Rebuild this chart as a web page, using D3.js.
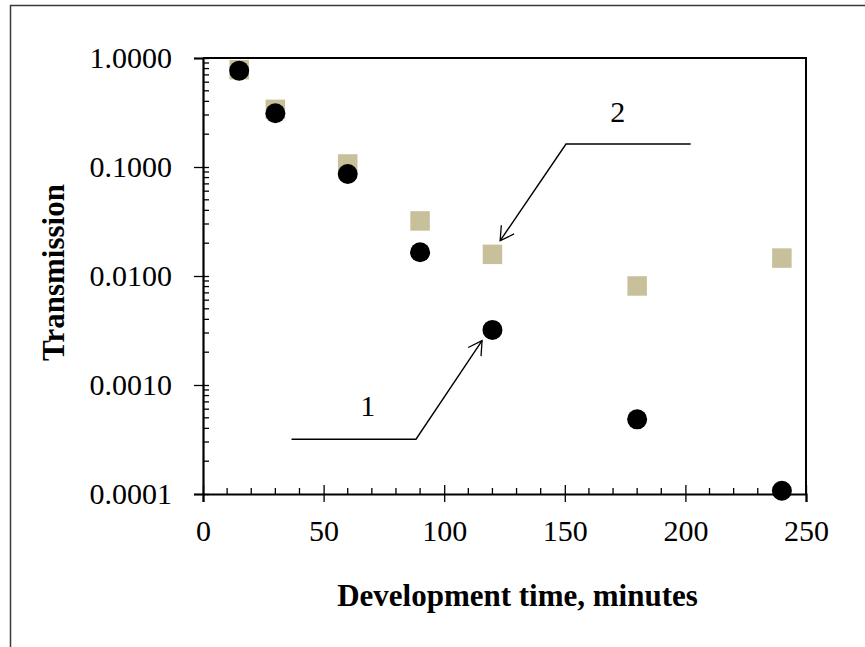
<!DOCTYPE html>
<html><head><meta charset="utf-8">
<script src="https://cdn.jsdelivr.net/npm/d3@7"></script>
<style>body{margin:0;background:#fff}svg{display:block}text{font-family:"Liberation Serif","Times New Roman",serif}</style>
</head><body>
<svg id="c" width="865" height="647"></svg>
<script>
const times = [15, 30, 60, 90, 120, 180, 240];
const series1 = [0.765, 0.311, 0.0862, 0.0165, 0.0032, 0.000484, 0.000107];
const series2 = [0.781, 0.338, 0.1066, 0.032, 0.0158, 0.0081, 0.0146];
const yTickValues = [0.0001, 0.001, 0.01, 0.1, 1];
const xTickValues = [0, 50, 100, 150, 200, 250];
const annot1Label = {text: "1", x: 68.3, y: 0.00052};
const annot1Path = [[36.7, 0.000318], [88.3, 0.000318], [115.7, 0.00255]];
const annot2Label = {text: "2", x: 172, y: 0.259};
const annot2Path = [[202.2, 0.1625], [150.5, 0.1625], [123.2, 0.0211]];

const svg = d3.select("#c");
const L = 203, R = 806, T = 58, B = 494;
const x = d3.scaleLinear().domain([0, 250]).range([L, R]);
const y = d3.scaleLog().domain([0.0001, 1]).range([B, T]);

// outer frame
svg.append("rect").attr("x", 10.5).attr("y", 5.5).attr("width", 900).attr("height", 700)
  .attr("fill", "none").attr("stroke", "#3a3a3a").attr("stroke-width", 1.5);

// plot box top/right
svg.append("path").attr("d", `M${L},${T}H${R}V${B}`).attr("fill", "none").attr("stroke", "#000").attr("stroke-width", 2);

// y minor ticks
const minor = [];
for (let e = -4; e < 0; e++) for (let k = 2; k <= 9; k++) minor.push(k * Math.pow(10, e));
svg.append("g").selectAll("line").data(minor).join("line")
  .attr("x1", L).attr("x2", L + 6).attr("y1", d => y(d)).attr("y2", d => y(d))
  .attr("stroke", "#000").attr("stroke-width", 1.3);
// x minor ticks
const xminor = d3.range(10, 250, 10).filter(v => v % 50 !== 0);
svg.append("g").selectAll("line").data(xminor).join("line")
  .attr("x1", d => x(d)).attr("x2", d => x(d)).attr("y1", B).attr("y2", B - 6)
  .attr("stroke", "#000").attr("stroke-width", 1.3);

// y axis
const yAxis = svg.append("g").attr("transform", `translate(${L},0)`)
  .call(d3.axisLeft(y).tickValues(yTickValues).tickFormat(d3.format(".4f")).tickSize(9).tickPadding(22));
yAxis.select(".domain").attr("stroke-width", 2.2);
yAxis.selectAll(".tick line").attr("x2", -9).attr("x1", 6).attr("stroke-width", 1.3);
yAxis.selectAll("text").attr("font-size", 30).attr("fill", "#000").attr("dy", "0.32em")
  .style("font-family", '"Liberation Serif",serif');

// x axis
const xAxis = svg.append("g").attr("transform", `translate(0,${B})`)
  .call(d3.axisBottom(x).tickValues(xTickValues).tickFormat(d3.format("d")).tickSize(8).tickPadding(18));
xAxis.select(".domain").attr("stroke-width", 2.2);
xAxis.selectAll(".tick line").attr("y1", -9).attr("y2", 8).attr("stroke-width", 1.3);
xAxis.selectAll("text").attr("font-size", 30).attr("fill", "#000")
  .style("font-family", '"Liberation Serif",serif');

// data: squares then circles
const sq = 19.5;
svg.append("g").selectAll("rect").data(times.map((t, i) => [t, series2[i]])).join("rect")
  .attr("x", d => x(d[0]) - sq / 2).attr("y", d => y(d[1]) - sq / 2)
  .attr("width", sq).attr("height", sq).attr("fill", "#C8C09B");
svg.append("g").selectAll("circle").data(times.map((t, i) => [t, series1[i]])).join("circle")
  .attr("cx", d => x(d[0])).attr("cy", d => y(d[1])).attr("r", 10).attr("fill", "#000");

// arrows
const defs = svg.append("defs");
defs.append("marker").attr("id", "ah").attr("markerUnits", "userSpaceOnUse")
  .attr("viewBox", "-16 -10 18 20").attr("refX", 0).attr("refY", 0)
  .attr("markerWidth", 18).attr("markerHeight", 20).attr("orient", "auto")
  .append("path").attr("d", "M-13.4,-7.75L0,0L-13.4,7.75").attr("fill", "none")
  .attr("stroke", "#000").attr("stroke-width", 1.3);
const line = d3.line().x(d => x(d[0])).y(d => y(d[1]));
[annot1Path, annot2Path].forEach(p => {
  svg.append("path").attr("d", line(p)).attr("fill", "none").attr("stroke", "#000")
    .attr("stroke-width", 1.4).attr("marker-end", "url(#ah)");
});
[annot1Label, annot2Label].forEach(a => {
  svg.append("text").attr("x", x(a.x)).attr("y", y(a.y)).attr("text-anchor", "middle")
    .attr("font-size", 30).text(a.text);
});

// axis titles
svg.append("text").attr("x", 517.5).attr("y", 606).attr("text-anchor", "middle")
  .attr("font-size", 31).attr("font-weight", "bold").text("Development time, minutes");
svg.append("text").attr("transform", "translate(63.5,272.5) rotate(-90)").attr("text-anchor", "middle")
  .attr("font-size", 31).attr("font-weight", "bold").text("Transmission");
</script>
</body></html>
